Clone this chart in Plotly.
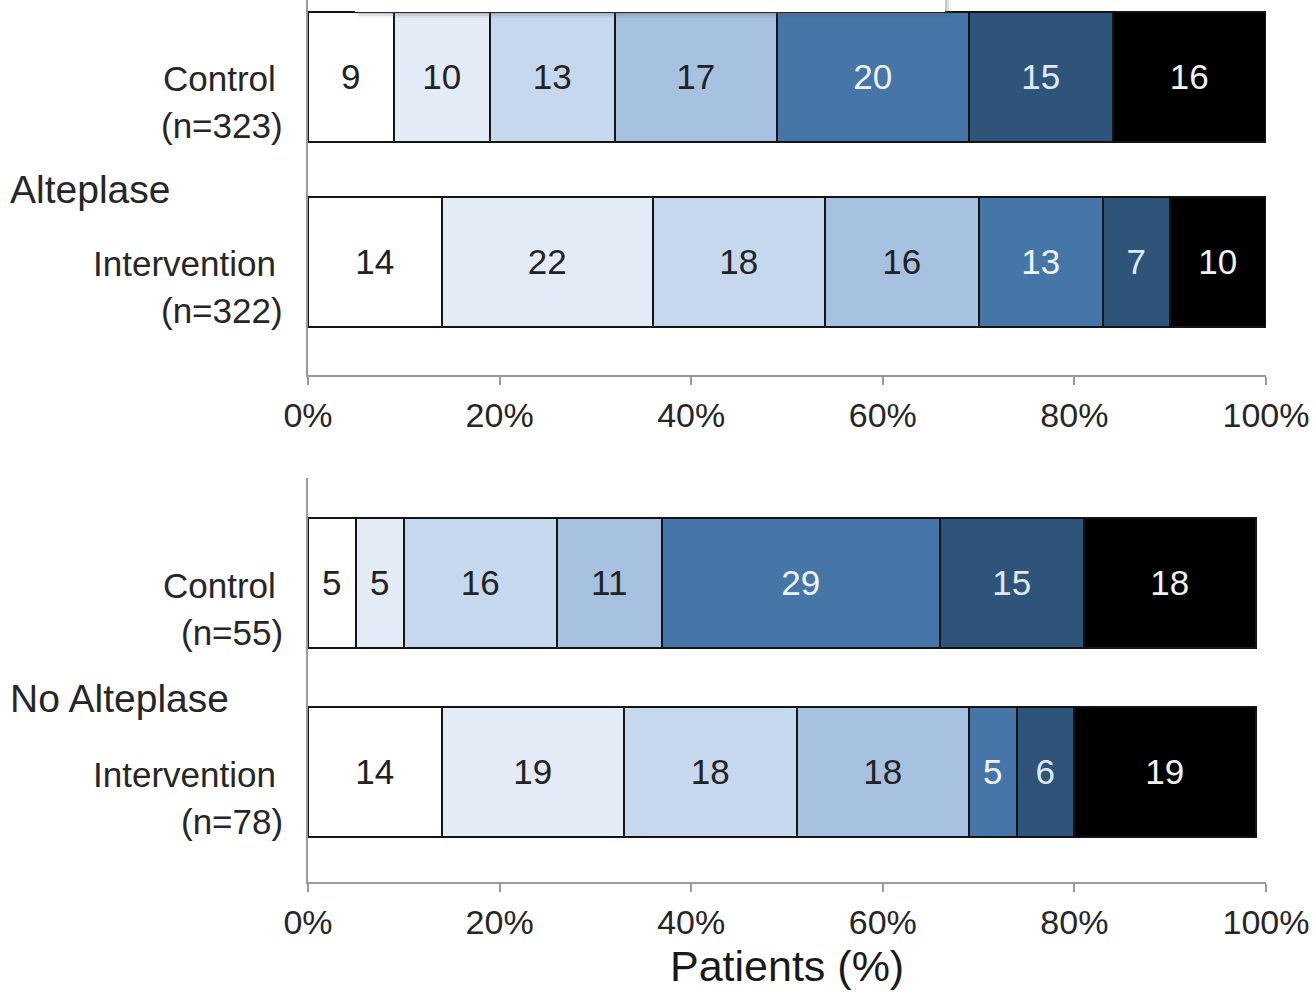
import plotly.graph_objects as go

# Outcome levels (ordered left to right in each stacked bar)
levels = ["0", "1", "2", "3", "4", "5", "6"]
level_colors = ["#ffffff", "#e3ebf6", "#c6d8ed", "#a7c1e0", "#4676a8", "#2f5479", "#000000"]
label_colors = ["#222222", "#222222", "#222222", "#222222", "#eef3fa", "#dfe9f5", "#f2f2f2"]

groups = ["Intervention", "Control"]

# Alteplase subgroup (%), per level
alteplase_control = [9, 10, 13, 17, 20, 15, 16]
alteplase_intervention = [14, 22, 18, 16, 13, 7, 10]
alteplase_n = {"Control": 323, "Intervention": 322}

# No-alteplase subgroup (%), per level
no_alteplase_control = [5, 5, 16, 11, 29, 15, 18]
no_alteplase_intervention = [14, 19, 18, 18, 5, 6, 19]
no_alteplase_n = {"Control": 55, "Intervention": 78}

tick_values = [0, 20, 40, 60, 80, 100]
tick_labels = [f"{v}%" for v in tick_values]

W, H = 1314, 992
FONT = "Liberation Sans, Arial, sans-serif"
TXT = "#262626"

fig = go.Figure()

panels = [
    ("x", "y", alteplase_intervention, alteplase_control, 0.70),
    ("x2", "y2", no_alteplase_intervention, no_alteplase_control, 0.69),
]
for xa, ya, interv, ctrl, bw in panels:
    for i, lev in enumerate(levels):
        vals = [interv[i], ctrl[i]]
        fig.add_trace(go.Bar(
            x=vals, y=groups, orientation="h", name=lev,
            xaxis=xa, yaxis=ya, width=bw,
            marker=dict(color=level_colors[i], line=dict(color="#141414", width=2.5)),
            text=[str(v) for v in vals], textposition="inside",
            insidetextanchor="middle", constraintext="none",
            textfont=dict(family=FONT, size=35, color=label_colors[i]),
            showlegend=False, hoverinfo="x+y",
        ))

xdom = [308 / W, 1266 / W]
axis_common = dict(
    range=[0, 100], tickmode="array", tickvals=tick_values, ticktext=tick_labels,
    showgrid=False, zeroline=False, showline=True, linecolor="#9a9a9a", linewidth=2,
    ticks="outside", ticklen=8, tickwidth=2, tickcolor="#9a9a9a",
    tickfont=dict(family=FONT, size=34, color=TXT), ticklabelstandoff=1,
    domain=xdom, automargin=False,
)
yaxis_common = dict(
    type="category", categoryarray=groups, showticklabels=False,
    showgrid=False, zeroline=False, showline=True, linecolor="#9a9a9a", linewidth=2,
    ticks="", automargin=False,
)

fig.update_layout(
    width=W, height=H, margin=dict(l=0, r=0, t=0, b=0, autoexpand=False),
    paper_bgcolor="white", plot_bgcolor="white",
    barmode="stack", bargap=0,
    xaxis=dict(anchor="y", **axis_common),
    xaxis2=dict(anchor="y2", **axis_common),
    yaxis=dict(anchor="x", domain=[1 - 375 / H, 1.0], range=[-0.611, 1.416], **yaxis_common),
    yaxis2=dict(anchor="x2", domain=[1 - 882 / H, 1 - 478 / H], range=[-0.582, 1.556], **yaxis_common),
    font=dict(family=FONT, color=TXT),
)

# Category labels to the left of each bar
ann = []
for ya, counts, subgroup in [("y", alteplase_n, "Alteplase"), ("y2", no_alteplase_n, "No Alteplase")]:
    for g in groups:
        ann.append(dict(x=278 / W, xref="paper", y=g, yref=ya, text=g,
                        xanchor="right", yanchor="middle", showarrow=False,
                        font=dict(family=FONT, size=35, color=TXT), yshift=-2))
        ann.append(dict(x=285 / W, xref="paper", y=g, yref=ya, text=f"(n={counts[g]})",
                        xanchor="right", yanchor="middle", showarrow=False,
                        font=dict(family=FONT, size=35, color=TXT), yshift=-49))
    ann.append(dict(x=0, xref="paper", y=0.39, yref=ya, text=subgroup,
                    xanchor="left", yanchor="middle", showarrow=False, xshift=8,
                    font=dict(family=FONT, size=39, color=TXT)))

ann.append(dict(x=(xdom[0] + xdom[1]) / 2, xref="paper", y=1 - 966 / H, yref="paper",
                text="Patients (%)", xanchor="center", yanchor="middle", showarrow=False,
                font=dict(family=FONT, size=43, color="#1a1a1a")))
fig.update_layout(annotations=ann)

# Legend frame at the top edge (clipped), with a soft drop shadow
shadow = []
for k, a in enumerate([0.08, 0.12, 0.18]):
    off = 6 - k * 2
    shadow.append(dict(type="rect", xref="paper", yref="paper",
                       x0=(357 + off * 0.3) / W, x1=(945 + off) / W,
                       y0=1 - (12 + off) / H, y1=1.0,
                       fillcolor=f"rgba(90,90,90,{a})", line=dict(width=0), layer="above"))
fig.update_layout(shapes=shadow + [
    dict(type="rect", xref="paper", yref="paper",
         x0=355 / W, x1=945 / W, y0=1 - 12 / H, y1=1.0,
         fillcolor="white", line=dict(width=0), layer="above"),
])

fig.write_html("out.html")
